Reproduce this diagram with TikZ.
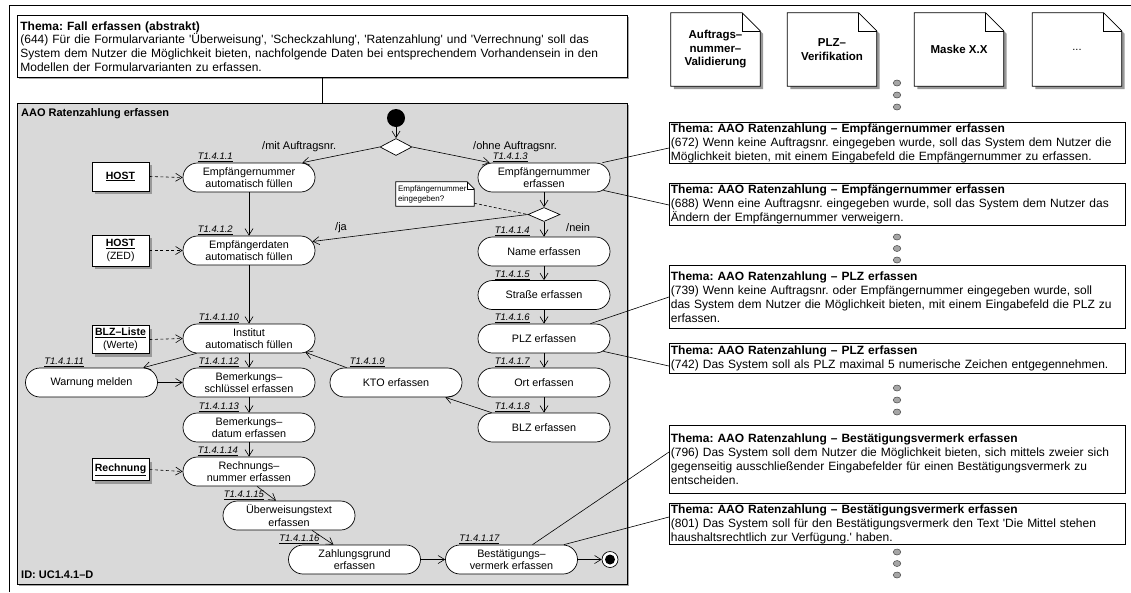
\documentclass[tikz,border=0pt]{standalone}
\usepackage{fontspec}
\setmainfont{Liberation Sans}[Ligatures=TeXOff]
\usetikzlibrary{shapes.geometric,arrows.meta,shadows}
\pgfdeclarelayer{back}
\pgfdeclarelayer{mid}
\pgfsetlayers{back,mid,main}
\frenchspacing

% folded-corner outline behind a named node: #1 node, #2 fold size, #3 shadow offset
\newcommand\foldoutline[3]{%
  \fill[black!40] ([shift={(#3pt,-#3pt)}]#1.north west)
    -- ([shift={(#3pt-#2pt,-#3pt)}]#1.north east)
    -- ([shift={(#3pt,-#3pt-#2pt)}]#1.north east)
    -- ([shift={(#3pt,-#3pt)}]#1.south east)
    -- ([shift={(#3pt,-#3pt)}]#1.south west) -- cycle;
  \filldraw[fill=white, line width=0.7pt] (#1.north west)
    -- ([xshift=-#2pt]#1.north east)
    -- ([yshift=-#2pt]#1.north east)
    -- (#1.south east) -- (#1.south west) -- cycle;
  \draw[line width=0.6pt] ([xshift=-#2pt]#1.north east) |- ([yshift=-#2pt]#1.north east);
}

\tikzset{
  act/.style={draw, fill=white, line width=0.7pt, rounded corners=14.5pt,
    minimum width=132pt, minimum height=29pt, inner sep=0pt, align=center,
    font=\fontsize{10.8}{12.6}\selectfont},
  tlab/.style={anchor=south west, inner sep=0pt, font=\fontsize{9.5}{11}\selectfont\itshape},
  guard/.style={inner sep=0pt, font=\fontsize{11}{13}\selectfont},
  flow/.style={line width=0.6pt, -{Straight Barb[length=6.5pt,width=8pt]}},
  objflow/.style={flow, dash pattern=on 3pt off 2.5pt},
  link/.style={line width=0.6pt},
  objbox/.style={draw, fill=white, line width=0.7pt, minimum width=57pt, inner sep=1pt,
    align=center, font=\fontsize{10.5}{12.5}\selectfont,
    drop shadow={shadow xshift=3pt, shadow yshift=-3pt, fill=black!40, opacity=1}},
  reqnote/.style={draw, fill=white, line width=0.7pt, anchor=north west, text width=453pt,
    inner xsep=1.5pt, inner ysep=1pt, align=left, font=\fontsize{12}{14}\selectfont},
  docnode/.style={minimum width=89pt, minimum height=73pt, inner sep=0pt, align=center,
    font=\bfseries\fontsize{11.5}{13.5}\selectfont},
  morepts/.style={ellipse, draw=black!70, fill=black!35, line width=0.5pt,
    minimum width=7.5pt, minimum height=6pt, inner sep=0pt},
  decision/.style={diamond, draw, fill=white, line width=0.7pt, inner sep=0pt},
}

\begin{document}
\frenchspacing
\begin{tikzpicture}[x=1pt,y=-1pt]
\useasboundingbox (0,0) rectangle (1131,592);

% ---------- enclosing frame, use case text, activity frame ----------
\begin{pgfonlayer}{back}
  \coordinate (fbl) at (9,592);
  \coordinate (ftl) at (9,5);
  \coordinate (ftr) at (1131,5);
  \draw[line width=0.9pt] (fbl) -- (ftl) -- (ftr);
  \node[draw, fill=white, line width=0.8pt, anchor=north west, minimum width=610pt,
        minimum height=62pt, text width=604pt, inner xsep=3pt, inner ysep=0pt, align=left,
        font=\fontsize{12}{13.6}\selectfont,
        drop shadow={shadow xshift=1.5pt, shadow yshift=-1.5pt, fill=black!35, opacity=1}]
        (tb) at (17,15)
    {\textbf{Thema: Fall erfassen (abstrakt)}\\
     (644) Für die Formularvariante 'Überweisung', 'Scheckzahlung', 'Ratenzahlung' und 'Verrechnung' soll das\\
     System dem Nutzer die Möglichkeit bieten, nachfolgende Daten bei entsprechendem Vorhandensein in den\\
     Modellen der Formularvarianten zu erfassen.};
  \node[draw, fill=black!15, line width=0.8pt, minimum width=610pt, minimum height=481pt,
        inner sep=0pt,
        drop shadow={shadow xshift=1.5pt, shadow yshift=-1.5pt, fill=black!35, opacity=1}]
        (af) at (322,343.5) {};
  \draw[link] (tb.south) -- (tb.south |- af.north);
\end{pgfonlayer}

\node[anchor=north west, inner sep=0pt, font=\bfseries\fontsize{11}{13}\selectfont]
  (aftitle) at (21,108) {AAO Ratenzahlung erfassen};
\node[anchor=base west, inner sep=0pt, font=\bfseries\fontsize{11}{13}\selectfont]
  (afid) at (21,578) {ID: UC1.4.1–D};

% ---------- control nodes ----------
\node[circle, fill=black, minimum size=18pt, inner sep=0pt] (init) at (396,118) {};
\node[decision, minimum width=32pt, minimum height=17pt] (d1) at (396,147) {};
\node[decision, minimum width=32pt, minimum height=14pt] (d2) at (544,214.5) {};
\node[circle, draw, fill=white, line width=0.7pt, minimum size=16pt, inner sep=0pt] (fin) at (610,559.5) {};
\node[circle, fill=black, minimum size=10pt, inner sep=0pt] (findot) at (fin) {};

% ---------- actions ----------
\node[act] (a1)  at (249,177.5) {Empfängernummer\\automatisch füllen};
\node[act] (a2)  at (249,250.5) {Empfängerdaten\\automatisch füllen};
\node[act] (a3)  at (544,177.5) {Empfängernummer\\erfassen};
\node[act] (a4)  at (544,251.5) {Name erfassen};
\node[act] (a5)  at (544,295)   {Straße erfassen};
\node[act] (a6)  at (544,338.5) {PLZ erfassen};
\node[act] (a7)  at (544,382.5) {Ort erfassen};
\node[act] (a8)  at (544,427.5) {BLZ erfassen};
\node[act] (a9)  at (396,382.5) {KTO erfassen};
\node[act] (a10) at (249,338.5) {Institut\\automatisch füllen};
\node[act] (a11) at (91.5,382.5) {Warnung melden};
\node[act] (a12) at (249,382.5) {Bemerkungs–\\schlüssel erfassen};
\node[act] (a13) at (249,427.5) {Bemerkungs–\\datum erfassen};
\node[act] (a14) at (249,471.5) {Rechnungs–\\nummer erfassen};
\node[act] (a15) at (289,515.5) {Überweisungstext\\erfassen};
\node[act] (a16) at (354.5,559.5) {Zahlungsgrund\\erfassen};
\node[act] (a17) at (511.5,559.5) {Bestätigungs–\\vermerk erfassen};

% ---------- action labels ----------
\node[tlab] (t1)  at ([xshift=15pt,yshift=0.5pt]a1.north west)  {\underline{T1.4.1.1}};
\node[tlab] (t2)  at ([xshift=15pt,yshift=0.5pt]a2.north west)  {\underline{T1.4.1.2}};
\node[tlab] (t3)  at ([xshift=15pt,yshift=0.5pt]a3.north west)  {\underline{T1.4.1.3}};
\node[tlab] (t4)  at ([xshift=17pt,yshift=0.5pt]a4.north west)  {\underline{T1.4.1.4}};
\node[tlab] (t5)  at ([xshift=17pt,yshift=0.5pt]a5.north west)  {\underline{T1.4.1.5}};
\node[tlab] (t6)  at ([xshift=17pt,yshift=0.5pt]a6.north west)  {\underline{T1.4.1.6}};
\node[tlab] (t7)  at ([xshift=17pt,yshift=0.5pt]a7.north west)  {\underline{T1.4.1.7}};
\node[tlab] (t8)  at ([xshift=17pt,yshift=0.5pt]a8.north west)  {\underline{T1.4.1.8}};
\node[tlab] (t9)  at ([xshift=20pt,yshift=0.5pt]a9.north west)  {\underline{T1.4.1.9}};
\node[tlab] (t10) at ([xshift=16pt,yshift=0.5pt]a10.north west) {\underline{T1.4.1.10}};
\node[tlab] (t11) at ([xshift=19pt,yshift=0.5pt]a11.north west) {\underline{T1.4.1.11}};
\node[tlab] (t12) at ([xshift=16pt,yshift=0.5pt]a12.north west) {\underline{T1.4.1.12}};
\node[tlab] (t13) at ([xshift=16pt,yshift=0.5pt]a13.north west) {\underline{T1.4.1.13}};
\node[tlab] (t14) at ([xshift=15pt,yshift=0.5pt]a14.north west) {\underline{T1.4.1.14}};
\node[tlab] (t15) at ([xshift=1pt,yshift=0.5pt]a15.north west)  {\underline{T1.4.1.15}};
\node[tlab] (t16) at ([xshift=-9pt,yshift=0.5pt]a16.north west) {\underline{T1.4.1.16}};
\node[tlab] (t17) at ([xshift=14pt,yshift=0.5pt]a17.north west) {\underline{T1.4.1.17}};

% ---------- object nodes ----------
\node[objbox, minimum height=29pt] (o1) at (120.5,176.5) {\textbf{\underline{HOST}}};
\node[objbox, minimum height=31pt] (o2) at (120.5,250.5) {\textbf{\underline{HOST}}\\(ZED)};
\node[objbox, minimum height=28pt] (o3) at (120.5,339.5) {\textbf{\underline{BLZ–Liste}}\\(Werte)};
\node[objbox, minimum height=22pt] (o4) at (120.5,469.5) {\textbf{\underline{Rechnung}}};

% ---------- decision note ----------
\node[minimum width=78pt, minimum height=24pt, text width=74pt, inner xsep=2pt, inner ysep=0pt,
      align=left, font=\fontsize{8}{10}\selectfont] (q) at (435,194)
  {Empfängernummer\\eingegeben?};

% ---------- guards ----------
\node[guard, anchor=west] (g1) at (262,147) {/mit Auftragsnr.};
\node[guard, anchor=west] (g2) at (473,147) {/ohne Auftragsnr.};
\node[guard, anchor=west] (g3) at (335,228) {/ja};
\node[guard, anchor=west] (g4) at (566,228) {/nein};

% ---------- control flow ----------
\draw[flow] (init) -- (d1);
\draw[flow] (d1.west) -- ([xshift=-13pt]a1.north east);
\draw[flow] (d1.east) -- ([xshift=12pt]a3.north west);
\draw[flow] (a1.south) -- (a2.north);
\draw[flow] (a2.south) -- (a10.north);
\draw[flow] (a3.south) -- (d2.north);
\draw[flow] (d2.south) -- (a4.north);
\draw[flow] (d2.west) -- ([xshift=-3pt,yshift=9pt]a2.east);
\draw[flow] (a4.south) -- (a5.north);
\draw[flow] (a5.south) -- (a6.north);
\draw[flow] (a6.south) -- (a7.north);
\draw[flow] (a7.south) -- (a8.north);
\draw[flow] ([xshift=14pt]a8.north west) -- ([xshift=-17pt]a9.south east);
\draw[flow] ([xshift=17pt]a9.north west) -- ([xshift=-10pt,yshift=1pt]a10.south east);
\draw[flow] (a10.south) -- (a12.north);
\draw[flow] ([xshift=14pt]a10.south west) -- ([xshift=-14.5pt]a11.north east);
\draw[flow] (a11.east) -- (a12.west);
\draw[flow] (a12.south) -- (a13.north);
\draw[flow] (a13.south) -- (a14.north);
\draw[flow] ([xshift=8pt]a14.south) -- ([xshift=-13pt]a15.north);
\draw[flow] ([xshift=23pt]a15.south) -- ([xshift=-21pt]a16.north);
\draw[flow] (a16.east) -- (a17.west);
\draw[flow] (a17.east) -- (fin.west);

% ---------- object flow ----------
\draw[objflow] (o1.east) -- (a1.west);
\draw[objflow] (o2.east) -- (a2.west);
\draw[objflow] (o3.east) -- (a10.west);
\draw[objflow] (o4.east) -- (a14.west);
\draw[link, dash pattern=on 3pt off 2pt] ([yshift=3pt]q.south east) -- (d2.west);

% ---------- screen documents ----------
\node[docnode] (doc1) at (715.5,49.5) {Auftrags–\\nummer–\\Validierung};
\node[docnode] (doc2) at (832,49.5)   {PLZ–\\Verifikation};
\node[docnode] (doc3) at (959,49.5)   {Maske X.X};
\node[docnode, font=\fontsize{11}{13}\selectfont] (doc4) at (1077,49.5) {...};

\begin{pgfonlayer}{mid}
  \foldoutline{doc1}{18}{3}
  \foldoutline{doc2}{18}{3}
  \foldoutline{doc3}{18}{3}
  \foldoutline{doc4}{18}{3}
  \foldoutline{q}{7}{0}
\end{pgfonlayer}

% ---------- requirement notes ----------
\node[reqnote, minimum height=40pt] (n1) at (669,122)
  {\textbf{Thema: AAO Ratenzahlung – Empfängernummer erfassen}\\
   (672) Wenn keine Auftragsnr. eingegeben wurde, soll das System dem Nutzer die\\
   Möglichkeit bieten, mit einem Eingabefeld die Empfängernummer zu erfassen.};
\node[reqnote, minimum height=42pt] (n2) at (669,183)
  {\textbf{Thema: AAO Ratenzahlung – Empfängernummer erfassen}\\
   (688) Wenn eine Auftragsnr. eingegeben wurde, soll das System dem Nutzer das\\
   Ändern der Empfängernummer verweigern.};
\node[reqnote, minimum height=63pt] (n3) at (669,265)
  {\textbf{Thema: AAO Ratenzahlung – PLZ erfassen}\\
   (739) Wenn keine Auftragsnr. oder Empfängernummer eingegeben wurde, soll\\
   das System dem Nutzer die Möglichkeit bieten, mit einem Eingabefeld die PLZ zu\\
   erfassen.};
\node[reqnote, minimum height=30pt] (n4) at (669,343)
  {\textbf{Thema: AAO Ratenzahlung – PLZ erfassen}\\
   (742) Das System soll als PLZ maximal 5 numerische Zeichen entgegennehmen.};
\node[reqnote, minimum height=68pt] (n5) at (669,425)
  {\textbf{Thema: AAO Ratenzahlung – Bestätigungsvermerk erfassen}\\
   (796) Das System soll dem Nutzer die Möglichkeit bieten, sich mittels zweier sich\\
   gegenseitig ausschließender Eingabefelder für einen Bestätigungsvermerk zu\\
   entscheiden.};
\node[reqnote, minimum height=40pt] (n6) at (669,503)
  {\textbf{Thema: AAO Ratenzahlung – Bestätigungsvermerk erfassen}\\
   (801) Das System soll für den Bestätigungsvermerk den Text 'Die Mittel stehen\\
   haushaltsrechtlich zur Verfügung.' haben.};

% ---------- links from actions to notes ----------
\draw[link] ([xshift=-8pt]a3.north east) -- ([yshift=-26pt]n1.north west);
\draw[link] ([xshift=-7pt,yshift=2pt]a3.south east) -- ([yshift=-22pt]n2.north west);
\draw[link] ([xshift=-20pt]a6.north east) -- ([yshift=-32pt]n3.north west);
\draw[link] ([xshift=-7pt,yshift=2pt]a6.south east) -- ([yshift=-23pt]n4.north west);
\draw[link] ([xshift=21pt]a17.north) -- ([yshift=-27pt]n5.north west);
\draw[link] ([xshift=-14pt]a17.north east) -- ([yshift=-14pt]n6.north west);

% ---------- continuation marks ----------
\node[morepts] (p1)  at (897,83)  {};
\node[morepts] (p2)  at (897,95)  {};
\node[morepts] (p3)  at (897,107) {};
\node[morepts] (p4)  at (897,237) {};
\node[morepts] (p5)  at (897,248.5) {};
\node[morepts] (p6)  at (897,260) {};
\node[morepts] (p7)  at (897,388) {};
\node[morepts] (p8)  at (897,400) {};
\node[morepts] (p9)  at (897,412) {};
\node[morepts] (p10) at (897,552) {};
\node[morepts] (p11) at (897,563.5) {};
\node[morepts] (p12) at (897,575) {};

\end{tikzpicture}
\end{document}
